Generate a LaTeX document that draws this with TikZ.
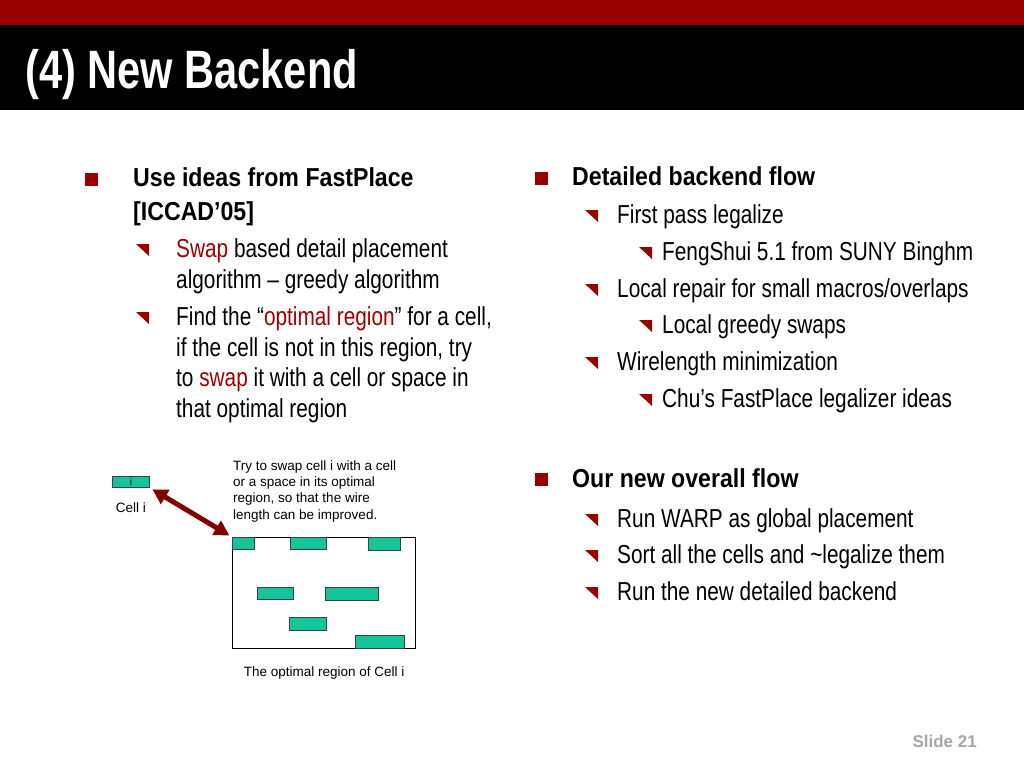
\documentclass[tikz,border=0pt]{standalone}
\usepackage{fontspec}
\setmainfont{Liberation Sans}
\newfontfamily\narrowfont[FakeStretch=0.80]{Liberation Sans}
\newfontfamily\narrowboldfont[FakeStretch=0.89]{Liberation Sans}
\newfontfamily\titlefont[FakeStretch=0.77]{Liberation Sans}
\usepackage{xcolor}
\usepackage{tikz}
\usetikzlibrary{positioning}
\usetikzlibrary{arrows.meta}
\definecolor{headred}{HTML}{990000}
\definecolor{bulletred}{HTML}{990000}
\definecolor{wordred}{HTML}{A00000}
\definecolor{arrowred}{HTML}{800000}
\definecolor{cellgreen}{RGB}{22,196,154}
\definecolor{slidegray}{HTML}{A6A6A6}
\newcommand{\redword}[1]{\textcolor{wordred}{#1}}
\tikzset{
  body/.style={font=\narrowfont\fontsize{26}{30}\selectfont, inner sep=0pt, anchor=base west},
  head/.style={font=\narrowboldfont\bfseries\fontsize{26}{30}\selectfont, inner sep=0pt, anchor=base west},
  note/.style={font=\fontsize{13.5}{16}\selectfont, inner sep=0pt},
  mainsq/.style={fill=bulletred, minimum size=13pt, inner sep=0pt},
  subtri/.pic={\fill[bulletred] (0,0) -- (13,0) -- (13,12) -- cycle;},
  cell/.style={draw=black!75, line width=0.8pt, fill=cellgreen, inner sep=0pt, anchor=north west},
  region/.style={draw=black, line width=1.2pt, fill=white, inner sep=0pt, anchor=north west},
  swaparrow/.style={arrowred, line width=5pt,
    {Triangle[length=15pt,width=16pt]}-{Triangle[length=15pt,width=16pt]},
    shorten <=3pt, shorten >=3pt},
}
\begin{document}
\begin{tikzpicture}[x=1pt, y=-1pt]
  \useasboundingbox (0,0) rectangle (1024,768);

  % Header
  \fill[headred] (0,0) rectangle (1024,25);
  \fill[black] (0,25) rectangle (1024,110);
  \node[anchor=base west, inner sep=0pt, text=white, font=\titlefont\bfseries\fontsize{54}{60}\selectfont] (title) at (25,88) {(4) New Backend};

  % Left column
  \node[head] (fast_1) at (133,186) {Use ideas from FastPlace};
  \node[head, below=34pt of fast_1.base west, anchor=base west] (fast_2) {[ICCAD’05]};
  \node[body, below=37pt of fast_2.base west, anchor=base west, xshift=43pt] (swap_1) {\redword{Swap} based detail placement};
  \node[body, below=31pt of swap_1.base west, anchor=base west] (swap_2) {algorithm – greedy algorithm};
  \node[body, below=37pt of swap_2.base west, anchor=base west] (find_1) {Find the “\redword{optimal region}” for a cell,};
  \node[body, below=31pt of find_1.base west, anchor=base west] (find_2) {if the cell is not in this region, try};
  \node[body, below=30pt of find_2.base west, anchor=base west] (find_3) {to \redword{swap} it with a cell or space in};
  \node[body, below=31pt of find_3.base west, anchor=base west] (find_4) {that optimal region};

  \node[mainsq] (sq_fast) at ([shift={(-42,-7)}]fast_1.base west) {};
  \pic at ([shift={(-40,-13)}]swap_1.base west) {subtri};
  \pic at ([shift={(-40,-13)}]find_1.base west) {subtri};

  % Right column
  \node[head] (flow_1) at (572,185) {Detailed backend flow};
  \node[body, below=38pt of flow_1.base west, anchor=base west, xshift=45pt] (pass_1) {First pass legalize};
  \node[body, below=37pt of pass_1.base west, anchor=base west, xshift=45pt] (feng_1) {FengShui 5.1 from SUNY Binghm};
  \node[body, below=37pt of feng_1.base west, anchor=base west, xshift=-45pt] (repair_1) {Local repair for small macros/overlaps};
  \node[body, below=36pt of repair_1.base west, anchor=base west, xshift=45pt] (greedy_1) {Local greedy swaps};
  \node[body, below=37pt of greedy_1.base west, anchor=base west, xshift=-45pt] (wire_1) {Wirelength minimization};
  \node[body, below=37pt of wire_1.base west, anchor=base west, xshift=45pt] (chu_1) {Chu’s FastPlace legalizer ideas};

  \node[head] (overall_1) at (572,487) {Our new overall flow};
  \node[body, below=40pt of overall_1.base west, anchor=base west, xshift=45pt] (warp_1) {Run WARP as global placement};
  \node[body, below=36pt of warp_1.base west, anchor=base west] (sort_1) {Sort all the cells and \textasciitilde legalize them};
  \node[body, below=37pt of sort_1.base west, anchor=base west] (run_1) {Run the new detailed backend};

  \node[mainsq] (sq_flow) at ([shift={(-31,-7)}]flow_1.base west) {};
  \node[mainsq] (sq_overall) at ([shift={(-31,-8)}]overall_1.base west) {};
  \pic at ([shift={(-32,-13)}]pass_1.base west) {subtri};
  \pic at ([shift={(-23,-13)}]feng_1.base west) {subtri};
  \pic at ([shift={(-32,-13)}]repair_1.base west) {subtri};
  \pic at ([shift={(-23,-13)}]greedy_1.base west) {subtri};
  \pic at ([shift={(-32,-13)}]wire_1.base west) {subtri};
  \pic at ([shift={(-23,-13)}]chu_1.base west) {subtri};
  \pic at ([shift={(-32,-13)}]warp_1.base west) {subtri};
  \pic at ([shift={(-32,-13)}]sort_1.base west) {subtri};
  \pic at ([shift={(-32,-13)}]run_1.base west) {subtri};

  % Swap picture
  \node[cell, minimum width=37pt, minimum height=11pt, font=\fontsize{10}{10}\selectfont] (cell_i) at (112,476) {i};
  \node[note, below=15pt of cell_i] (cell_label) {Cell i};

  \node[note, anchor=base west] (tip_1) at (233,470) {Try to swap cell i with a cell};
  \node[note, below=16.4pt of tip_1.base west, anchor=base west] (tip_2) {or a space in its optimal};
  \node[note, below=16.4pt of tip_2.base west, anchor=base west] (tip_3) {region, so that the wire};
  \node[note, below=16.4pt of tip_3.base west, anchor=base west] (tip_4) {length can be improved.};

  \node[region, minimum width=183pt, minimum height=111pt] (region) at (232,537) {};
  \node[cell, minimum width=22pt, minimum height=12pt] (cell_a) at (232,537) {};
  \node[cell, minimum width=36pt, minimum height=12pt] (cell_b) at (290,537) {};
  \node[cell, minimum width=32pt, minimum height=13pt] (cell_c) at (368,537) {};
  \node[cell, minimum width=36pt, minimum height=12pt] (cell_d) at (257,587) {};
  \node[cell, minimum width=53pt, minimum height=13pt] (cell_e) at (325,587) {};
  \node[cell, minimum width=37pt, minimum height=13pt] (cell_f) at (289,617) {};
  \node[cell, minimum width=49pt, minimum height=13pt] (cell_g) at (355,635) {};
  \node[note, below=17pt of region] (region_label) {The optimal region of Cell i};

  \draw[swaparrow] (cell_i.south east) -- (region.north west);

  % Slide number
  \node[anchor=base east, inner sep=0pt, text=slidegray, font=\bfseries\fontsize{17}{20}\selectfont] (slide_no) at (977,747) {Slide 21};

\end{tikzpicture}
\end{document}
